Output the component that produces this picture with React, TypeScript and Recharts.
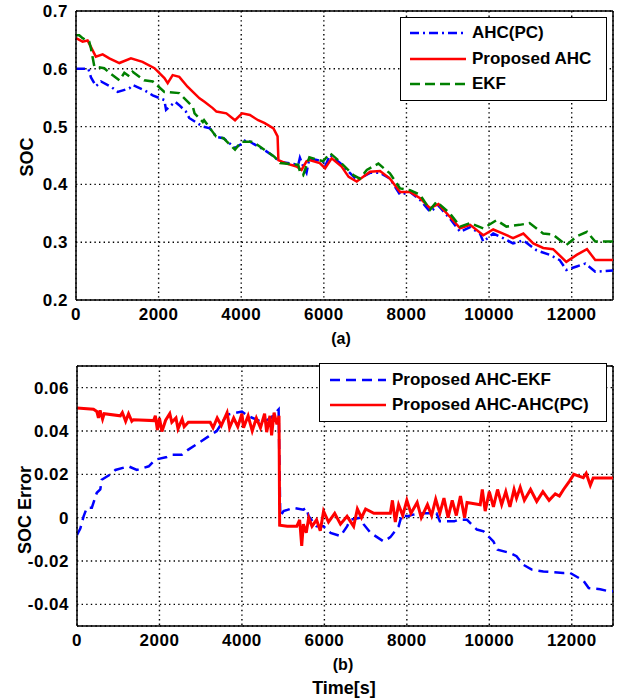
import { LineChart, Line, XAxis, YAxis, CartesianGrid, ReferenceLine } from 'recharts'

// (a) SOC estimates, [time s, SOC]
const ahcPc: [number, number][] = [
  [0, 0.6], [300, 0.6], [363, 0.585], [484, 0.57], [605, 0.578], [847, 0.569], [1010, 0.56], [1290, 0.566],
  [1372, 0.572], [1654, 0.563], [1857, 0.554], [2138, 0.546], [2180, 0.529], [2400, 0.543], [2500, 0.537],
  [2660, 0.526], [2740, 0.515], [3070, 0.5], [3240, 0.497], [3400, 0.482], [3570, 0.48], [3850, 0.463],
  [4000, 0.47], [4120, 0.478], [4300, 0.47], [4550, 0.46], [4800, 0.448], [4940, 0.439], [5380, 0.434],
  [5420, 0.446], [5500, 0.431], [5580, 0.42], [5650, 0.445], [5980, 0.44], [6030, 0.431], [6150, 0.451],
  [6392, 0.437], [6795, 0.408], [7120, 0.42], [7360, 0.42], [7600, 0.41], [7845, 0.382], [8087, 0.387],
  [8330, 0.373], [8570, 0.353], [8775, 0.363], [9050, 0.341], [9300, 0.318], [9540, 0.326], [9780, 0.315],
  [9860, 0.301], [10100, 0.315], [10340, 0.307], [10580, 0.298], [10830, 0.303], [11150, 0.286],
  [11470, 0.278], [11710, 0.269], [11870, 0.252], [12120, 0.258], [12330, 0.263], [12570, 0.249], [13000, 0.251],
]

const proposedAhc: [number, number][] = [
  [0, 0.653], [160, 0.647], [280, 0.649], [360, 0.638], [480, 0.621], [645, 0.625], [807, 0.618], [1050, 0.61],
  [1330, 0.618], [1610, 0.612], [1900, 0.601], [2140, 0.584], [2220, 0.575], [2340, 0.589], [2500, 0.586],
  [2700, 0.569], [2990, 0.549], [3110, 0.543], [3310, 0.532], [3400, 0.526], [3640, 0.523], [3850, 0.511],
  [4020, 0.523], [4210, 0.52], [4410, 0.511], [4570, 0.506], [4780, 0.497], [4880, 0.483], [4900, 0.442],
  [5100, 0.436], [5340, 0.431], [5460, 0.425], [5580, 0.44], [5650, 0.442], [5900, 0.437], [6030, 0.428],
  [6190, 0.445], [6430, 0.431], [6600, 0.413], [6795, 0.405], [7120, 0.422], [7360, 0.423], [7600, 0.41],
  [7845, 0.387], [8087, 0.387], [8330, 0.376], [8570, 0.359], [8775, 0.366], [9050, 0.344], [9300, 0.324],
  [9540, 0.33], [9860, 0.312], [10100, 0.322], [10340, 0.315], [10580, 0.307], [10830, 0.315], [11070, 0.298],
  [11310, 0.29], [11550, 0.288], [11870, 0.266], [12120, 0.278], [12370, 0.288], [12570, 0.269], [13000, 0.269],
]

const ekf: [number, number][] = [
  [0, 0.658], [80, 0.658], [160, 0.653], [320, 0.647], [360, 0.636], [400, 0.621], [444, 0.604], [685, 0.601],
  [810, 0.593], [1050, 0.58], [1170, 0.593], [1290, 0.587], [1370, 0.595], [1650, 0.58], [1860, 0.578],
  [2140, 0.56], [2220, 0.56], [2500, 0.558], [2580, 0.552], [2830, 0.534], [2870, 0.523], [3070, 0.508],
  [3100, 0.511], [3390, 0.483], [3570, 0.48], [3850, 0.46], [4000, 0.474], [4160, 0.474], [4280, 0.474],
  [4800, 0.448], [4940, 0.437], [5380, 0.434], [5420, 0.422], [5500, 0.416], [5650, 0.447], [5980, 0.44],
  [6150, 0.454], [6392, 0.439], [6715, 0.416], [6870, 0.41], [7040, 0.425], [7320, 0.436], [7600, 0.419],
  [7845, 0.393], [8087, 0.39], [8330, 0.382], [8570, 0.356], [8730, 0.37], [9050, 0.35], [9300, 0.327],
  [9540, 0.333], [9860, 0.324], [10180, 0.338], [10420, 0.327], [10740, 0.33], [10980, 0.333], [11310, 0.315],
  [11550, 0.313], [11870, 0.295], [12120, 0.31], [12370, 0.318], [12570, 0.301], [13000, 0.301],
]

// (b) SOC error, [time s, error]
const errEkf: [number, number][] = [
  [0, -0.008], [80, -0.005], [160, 0.0006], [240, 0.0046], [360, 0.0046], [480, 0.0115], [565, 0.013],
  [600, 0.0175], [810, 0.02], [930, 0.022], [1250, 0.0237], [1450, 0.022], [1740, 0.0237], [1900, 0.0268],
  [2180, 0.028], [2300, 0.029], [2540, 0.029], [2700, 0.0314], [2990, 0.035], [3190, 0.0375], [3390, 0.04],
  [3640, 0.0475], [4000, 0.049], [4140, 0.047], [4500, 0.044], [4700, 0.046], [4890, 0.05], [4930, 0.0006],
  [5010, 0.003], [5250, 0.0045], [5490, 0.0037], [5560, 0.0045], [5620, 0.0006], [5810, -0.004], [5980, -0.004],
  [6150, -0.007], [6390, -0.0085], [6550, -0.004], [6630, -0.001], [6870, 0.0], [6950, -0.003], [7120, -0.007],
  [7200, -0.008], [7440, -0.011], [7600, -0.009], [7800, -0.004], [7880, 0.0014], [8000, 0.0006],
  [8150, 0.0014], [8390, 0.002], [8550, 0.002], [8720, 0.002], [8800, -0.0017], [9150, -0.0017],
  [9240, -0.001], [9460, -0.001], [9700, -0.0055], [9860, -0.0063], [10100, -0.011], [10200, -0.0148],
  [10500, -0.0163], [10660, -0.0178], [10820, -0.0217], [11030, -0.024], [11310, -0.0248], [11470, -0.025],
  [11790, -0.0255], [11950, -0.0254], [12280, -0.029], [12410, -0.0325], [12690, -0.033], [12900, -0.034],
  [13000, -0.034],
]

const errAhcPc: [number, number][] = [
  [0, 0.0506], [400, 0.05], [480, 0.049], [520, 0.046], [560, 0.0495], [620, 0.0455], [660, 0.048],
  [1050, 0.047], [1100, 0.0485], [1180, 0.0445], [1250, 0.048], [1330, 0.0445], [1370, 0.0452],
  [1860, 0.0448], [1900, 0.047], [1950, 0.0405], [2000, 0.046], [2060, 0.0398], [2150, 0.045], [2250, 0.048],
  [2300, 0.044], [2400, 0.046], [2450, 0.041], [2550, 0.0455], [2600, 0.042], [2700, 0.044], [3230, 0.044],
  [3300, 0.0415], [3400, 0.046], [3500, 0.0425], [3640, 0.0485], [3700, 0.0415], [3800, 0.046], [3900, 0.042],
  [4000, 0.048], [4040, 0.0415], [4150, 0.047], [4250, 0.04], [4350, 0.046], [4450, 0.0415], [4550, 0.048],
  [4600, 0.0395], [4680, 0.047], [4720, 0.038], [4780, 0.0485], [4850, 0.043], [4900, 0.047],
  [4915, -0.0035], [5100, -0.004], [5330, -0.004], [5400, -0.001], [5450, -0.013], [5490, -0.003],
  [5560, -0.007], [5620, 0.0], [5700, -0.004], [5810, -0.001], [5900, -0.006], [5980, 0.003], [6100, -0.002],
  [6250, 0.002], [6390, -0.003], [6550, 0.0006], [6710, -0.004], [6800, 0.004], [6900, 0.0], [7000, 0.004],
  [7200, 0.002], [7600, 0.002], [7650, 0.008], [7720, -0.002], [7800, 0.006], [7900, 0.001], [8000, 0.008],
  [8100, 0.002], [8250, 0.007], [8350, 0.0], [8500, 0.006], [8600, 0.001], [8700, 0.0085], [8800, 0.002],
  [8900, 0.009], [9000, 0.0], [9100, 0.008], [9200, 0.001], [9300, 0.01], [9400, 0.0], [9460, 0.007],
  [9780, 0.006], [9830, 0.013], [9900, 0.003], [10000, 0.012], [10100, 0.005], [10200, 0.013], [10300, 0.006],
  [10400, 0.012], [10500, 0.005], [10600, 0.013], [10660, 0.009], [10750, 0.014], [10850, 0.008],
  [11000, 0.013], [11150, 0.0075], [11300, 0.012], [11450, 0.008], [11600, 0.011], [11700, 0.01],
  [11800, 0.013], [11950, 0.017], [12050, 0.02], [12280, 0.0185], [12350, 0.0205], [12450, 0.015],
  [12520, 0.0183], [13000, 0.0183],
]

const timeTicks = [0, 2000, 4000, 6000, 8000, 10000, 12000]
const socTicks = [0.2, 0.3, 0.4, 0.5, 0.6, 0.7]
const errTicks = [-0.04, -0.02, 0, 0.02, 0.04, 0.06]

const FONT = '"Liberation Sans", Arial, sans-serif'
const tickStyle = { fontSize: 17, fontWeight: 'bold', fill: '#000', fontFamily: FONT, letterSpacing: 0.5 }

const toRows = (pts: [number, number][]) => pts.map(([t, v]) => ({ t, v }))

function LegendRow({ color, dash, label, top, left, width }: any) {
  return (
    <div style={{ position: 'absolute', top, left, display: 'flex', alignItems: 'center', height: 20 }}>
      <svg width={width} height={6} style={{ display: 'block' }}>
        <line x1={0} y1={3} x2={width} y2={3} stroke={color} strokeWidth={2.5} strokeDasharray={dash} />
      </svg>
      <span style={{ marginLeft: 6, fontSize: 17, fontWeight: 'bold', fontFamily: FONT, color: '#000', whiteSpace: 'nowrap' }}>
        {label}
      </span>
    </div>
  )
}

const txt = (extra: any) => ({
  position: 'absolute' as const,
  fontFamily: FONT,
  fontWeight: 'bold' as const,
  color: '#000',
  whiteSpace: 'nowrap' as const,
  ...extra,
})

export default function App() {
  return (
    <div style={{ position: 'absolute', left: 0, top: 0, width: 619, height: 699, background: '#fff' }}>
      <div style={{ position: 'absolute', left: 0, top: 0 }}>
        <LineChart width={619} height={340} margin={{ top: 11, right: 6, bottom: 15, left: 0 }}>
          <CartesianGrid stroke="#000" strokeWidth={1.4} strokeDasharray="1.4 3.2" />
          <XAxis
            dataKey="t" type="number" domain={[0, 13000]} ticks={timeTicks} allowDataOverflow
            height={25} tick={tickStyle} tickLine={false} axisLine={{ stroke: '#000', strokeWidth: 1.5 }}
          />
          <YAxis
            type="number" domain={[0.2, 0.7]} ticks={socTicks} allowDataOverflow width={76}
            tick={tickStyle} tickLine={false} axisLine={{ stroke: '#000', strokeWidth: 1.5 }}
            tickFormatter={(v: number) => String(v)}
          />
          <ReferenceLine y={0.7} stroke="#000" strokeWidth={1.5} />
          <ReferenceLine x={13000} stroke="#000" strokeWidth={1.5} />
          <Line data={toRows(ahcPc)} dataKey="v" type="linear" dot={false} stroke="#0000ff" strokeWidth={2.5}
            strokeDasharray="9 4 2 4" isAnimationActive={false} />
          <Line data={toRows(proposedAhc)} dataKey="v" type="linear" dot={false} stroke="#ff0000" strokeWidth={2.5}
            isAnimationActive={false} />
          <Line data={toRows(ekf)} dataKey="v" type="linear" dot={false} stroke="#008000" strokeWidth={2.5}
            strokeDasharray="10 5" isAnimationActive={false} />
        </LineChart>
      </div>

      <div style={{ position: 'absolute', left: 0, top: 355 }}>
        <LineChart width={619} height={300} margin={{ top: 11, right: 6, bottom: 4, left: 0 }}>
          <CartesianGrid stroke="#000" strokeWidth={1.4} strokeDasharray="1.4 3.2" />
          <XAxis
            dataKey="t" type="number" domain={[0, 13000]} ticks={timeTicks} allowDataOverflow
            height={25} tick={tickStyle} tickLine={false} axisLine={{ stroke: '#000', strokeWidth: 1.5 }}
          />
          <YAxis
            type="number" domain={[-0.05, 0.07]} ticks={errTicks} allowDataOverflow width={77}
            tick={tickStyle} tickLine={false} axisLine={{ stroke: '#000', strokeWidth: 1.5 }}
            tickFormatter={(v: number) => String(v)}
          />
          <ReferenceLine y={0.07} stroke="#000" strokeWidth={1.5} />
          <ReferenceLine x={13000} stroke="#000" strokeWidth={1.5} />
          <Line data={toRows(errEkf)} dataKey="v" type="linear" dot={false} stroke="#0000ff" strokeWidth={2.5}
            strokeDasharray="10 6" isAnimationActive={false} />
          <Line data={toRows(errAhcPc)} dataKey="v" type="linear" dot={false} stroke="#ff0000" strokeWidth={3}
            isAnimationActive={false} />
        </LineChart>
      </div>

      {/* legend (a) */}
      <div style={{ position: 'absolute', left: 400, top: 17, width: 205, height: 82, border: '1px solid #000', background: '#fff' }} />
      <LegendRow color="#0000ff" dash="9 4 2 4" label="AHC(PC)" top={23} left={410} width={56} />
      <LegendRow color="#ff0000" label="Proposed AHC" top={49} left={410} width={56} />
      <LegendRow color="#008000" dash="10 5" label="EKF" top={74} left={410} width={56} />

      {/* legend (b) */}
      <div style={{ position: 'absolute', left: 319, top: 363, width: 286, height: 57, border: '1px solid #000', background: '#fff' }} />
      <LegendRow color="#0000ff" dash="10 6" label="Proposed AHC-EKF" top={370} left={330} width={56} />
      <LegendRow color="#ff0000" label="Proposed AHC-AHC(PC)" top={395} left={330} width={56} />

      {/* axis labels */}
      <div style={txt({ left: 27, top: 157, fontSize: 18, transform: 'translate(-50%, -50%) rotate(-90deg)' })}>SOC</div>
      <div style={txt({ left: 25, top: 510, fontSize: 18, transform: 'translate(-50%, -50%) rotate(-90deg)' })}>SOC Error</div>
      <div style={txt({ left: 341, top: 339, fontSize: 16, transform: 'translate(-50%, -50%)' })}>(a)</div>
      <div style={txt({ left: 343, top: 665, fontSize: 16, transform: 'translate(-50%, -50%)' })}>(b)</div>
      <div style={txt({ left: 344, top: 688, fontSize: 18, transform: 'translate(-50%, -50%)' })}>Time[s]</div>
    </div>
  )
}
